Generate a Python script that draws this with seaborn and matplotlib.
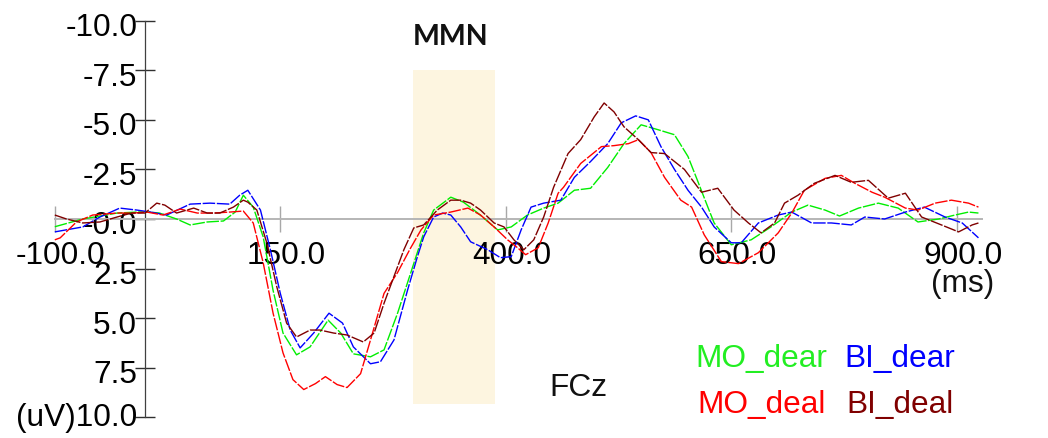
import numpy as np
import pandas as pd
import matplotlib
matplotlib.use("Agg")
import matplotlib.pyplot as plt
import seaborn as sns
from matplotlib.patches import Rectangle
from matplotlib.transforms import ScaledTranslation

# ---------------- data (ms, uV) ----------------
mo_dear_t = [-100, -69, -31, 0, 16, 35, 50, 69, 87, 100, 109, 120, 131, 142, 153, 168, 183, 203, 217, 231,
             250, 265, 280, 294, 309, 320, 339, 353, 369, 391, 406, 424, 442, 458, 476, 494, 513, 531, 550,
             569, 587, 602, 612, 624, 631, 650, 672, 694, 717, 735, 754, 770, 791, 813, 835, 857, 880, 898,
             913, 924]
mo_dear_v = [0.39, 0.0, -0.3, -0.37, -0.3, 0.0, 0.3, 0.15, 0.1, -0.35, -1.2, -0.6, 0.9, 3.6, 5.75, 6.85, 6.45,
             5.1, 5.75, 6.8, 6.95, 6.6, 4.75, 2.8, 0.7, -0.45, -1.1, -0.85, -0.3, 0.55, 0.4, -0.2, -0.55,
             -0.8, -1.45, -1.55, -2.6, -3.8, -4.75, -4.5, -4.25, -3.15, -2.0, -0.6, 0.2, 1.3, 1.05, 0.4,
             -0.35, -0.7, -0.45, -0.15, -0.55, -0.8, -0.55, 0.15, 0.0, -0.2, -0.35, -0.3]

bi_dear_t = [-100, -69, -50, -28, -9, 6, 24, 50, 72, 94, 105, 114, 128, 139, 150, 161, 172, 187, 204, 219,
             231, 250, 261, 276, 291, 302, 309, 320, 330, 339, 350, 361, 380, 394, 406, 417, 428, 442, 461,
             476, 494, 513, 528, 544, 558, 572, 587, 602, 617, 631, 650, 661, 680, 702, 717, 739, 761, 783,
             798, 820, 843, 864, 887, 906, 924]
bi_dear_v = [0.65, 0.4, -0.1, -0.55, -0.45, -0.35, -0.2, -0.75, -0.8, -0.75, -1.2, -1.45, -0.45, 1.55, 3.75,
             5.6, 6.5, 5.75, 4.75, 5.25, 6.45, 7.3, 7.2, 6.1, 3.6, 1.9, 0.9, -0.1, -0.3, -0.2, 0.4, 1.15,
             1.55, 1.95, 1.9, 0.55, -0.6, -0.8, -0.95, -2.1, -2.9, -3.8, -4.85, -5.2, -5.0, -3.65, -2.5,
             -1.45, -0.6, 0.4, 1.2, 1.2, 0.2, -0.2, -0.35, 0.2, 0.2, 0.3, -0.1, 0.0, -0.35, -0.6, -0.1,
             0.2, 0.95]

mo_deal_t = [-100, -94, -76, -58, -31, -13, 2, 20, 39, 58, 76, 94, 109, 120, 131, 142, 153, 164, 176, 189,
             200, 213, 224, 239, 250, 265, 280, 294, 306, 320, 339, 358, 372, 387, 402, 413, 422, 436, 447,
             458, 464, 483, 506, 520, 536, 547, 561, 576, 594, 606, 620, 639, 658, 680, 702, 717, 731, 754,
             772, 787, 806, 820, 843, 857, 876, 894, 913, 924]
mo_deal_v = [1.05, 0.95, 0.15, -0.2, -0.3, -0.3, -0.35, -0.2, -0.5, -0.3, -0.3, -0.35, -0.4, 0.2, 2.2, 4.75,
             6.75, 8.1, 8.6, 8.3, 7.95, 8.35, 8.5, 7.8, 6.1, 3.75, 2.7, 1.5, 0.55, -0.2, -0.35, -0.55, -0.2,
             0.4, 1.05, 1.45, 1.8, 1.45, 0.2, -1.3, -1.6, -2.8, -3.65, -3.7, -3.8, -4.0, -3.35, -2.1, -0.95,
             -0.6, 0.8, 2.15, 2.25, 1.7, 0.7, -0.3, -1.45, -2.05, -2.2, -1.8, -1.35, -1.1, -0.55, -0.45,
             -0.8, -0.95, -0.8, -0.6]

bi_deal_t = [-100, -87, -69, -50, -31, -15, 0, 13, 22, 35, 54, 69, 83, 98, 109, 114, 124, 135, 146, 157, 168,
             183, 194, 209, 224, 242, 254, 265, 276, 287, 298, 309, 324, 339, 350, 361, 372, 387, 398, 409,
             420, 431, 442, 453, 469, 483, 498, 509, 520, 531, 547, 561, 576, 598, 617, 635, 653, 669, 683,
             698, 709, 724, 742, 765, 783, 802, 824, 843, 861, 883, 902, 917, 924]
bi_deal_v = [-0.2, 0.0, 0.2, 0.15, -0.1, -0.3, -0.3, -0.8, -0.7, -0.3, -0.55, -0.3, -0.3, -0.6, -0.95, -0.85,
             -0.45, 1.2, 3.4, 5.25, 5.95, 5.6, 5.6, 5.75, 5.85, 6.2, 5.75, 4.25, 2.9, 1.55, 0.45, 0.3, -0.45,
             -0.95, -0.95, -0.8, -0.45, 0.2, 0.4, 1.05, 1.55, 1.05, -0.1, -1.6, -3.3, -4.0, -5.15, -5.85,
             -5.4, -4.65, -4.0, -3.35, -3.3, -2.5, -1.35, -1.55, -0.45, 0.2, 0.7, 0.2, -0.8, -1.2, -1.8,
             -2.2, -1.85, -1.95, -1.05, -1.3, -0.1, 0.3, 0.65, 0.3, 0.2]

conditions = ["MO_dear", "BI_dear", "MO_deal", "BI_deal"]
colors = {"MO_dear": "#00EE00", "BI_dear": "#0000FF", "MO_deal": "#FF0000", "BI_deal": "#800000"}

x_ticks = [-100, 150, 400, 650, 900]
x_tick_labels = ["-100.0", "150.0", "400.0", "650.0", "900.0"]
y_ticks = [-10, -7.5, -5, -2.5, 0, 2.5, 5, 7.5, 10]
y_tick_labels = ["-10.0", "-7.5", "-5.0", "-2.5", "-0.0", "2.5", "5.0", "7.5", "(uV)10.0"]
mmn_window = (297, 388)
mmn_span = (-7.5, 9.35)

# ---------------- build frame ----------------
series = {"MO_dear": (mo_dear_t, mo_dear_v), "BI_dear": (bi_dear_t, bi_dear_v),
          "MO_deal": (mo_deal_t, mo_deal_v), "BI_deal": (bi_deal_t, bi_deal_v)}
rows = []
for c in conditions:
    t, v = series[c]
    for a, b in zip(t, v):
        rows.append((c, a, b))
df = pd.DataFrame(rows, columns=["cond", "t", "v"])

sns.set_style("white")
plt.rcParams["font.family"] = ["Liberation Sans", "DejaVu Sans"]

W, H = 1048, 438
fig = plt.figure(figsize=(W / 100, H / 100), dpi=100)
ax = fig.add_axes([0, 0, 1, 1])
ax.set_facecolor("white")

# pixel mapping: px = 145 + 0.902*ms ; py = 219 + 19.83*v
sx, x0 = 0.902, 145.0
sy, y0 = 19.83, 219.0
ax.set_xlim((0 - x0) / sx, (W - x0) / sx)
ax.set_ylim((H - y0) / sy, (0 - y0) / sy)

ax.add_patch(Rectangle((mmn_window[0], mmn_span[0]), mmn_window[1] - mmn_window[0],
                       mmn_span[1] - mmn_span[0], facecolor="#FDF5E0", edgecolor="none", zorder=0))

sns.lineplot(data=df, x="t", y="v", hue="cond", hue_order=conditions, palette=colors,
             estimator=None, sort=False, legend=False, linewidth=1.0, ax=ax, zorder=3)
for ln in ax.lines:
    ln.set_dashes([9, 1.2])

# spines
for s in ["top", "right"]:
    ax.spines[s].set_visible(False)
ax.spines["left"].set_position(("data", 0))
ax.spines["left"].set_bounds(-10, 10)
ax.spines["left"].set_color("#404040")
ax.spines["left"].set_linewidth(0.9)
ax.spines["bottom"].set_position(("data", 0))
ax.spines["bottom"].set_bounds(-100, 928)
ax.spines["bottom"].set_color("#B5B5B5")
ax.spines["bottom"].set_linewidth(1.4)

ax.set_xticks(x_ticks)
ax.set_xticklabels(x_tick_labels)
ax.set_yticks(y_ticks)
ax.set_yticklabels(y_tick_labels)
ax.set_xlabel("")
ax.set_ylabel("")
ax.tick_params(axis="x", bottom=True, direction="inout", length=18.7, width=1.0, color="#A8A8A8",
               labelsize=22.8, pad=6.5, labelcolor="black")
ax.tick_params(axis="y", left=True, direction="inout", length=14.4, width=1.0, color="#303030",
               labelsize=22.8, pad=-1.6, labelcolor="black")

for i, tk in enumerate(ax.xaxis.get_major_ticks()):
    if x_ticks[i] == 400:
        tk.tick1line.set_color("black")
gray_y = [-7.5, 5, 7.5, 0]
for i, tk in enumerate(ax.yaxis.get_major_ticks()):
    if y_ticks[i] in gray_y:
        tk.tick1line.set_color("#B0B0B0")

for lab in ax.get_xticklabels():
    lab.set_transform(lab.get_transform() + ScaledTranslation(0.06, 0, fig.dpi_scale_trans))
for i, lab in enumerate(ax.get_yticklabels()):
    dy = -0.04 if y_ticks[i] != 10 else 0.03
    lab.set_transform(lab.get_transform() + ScaledTranslation(0, dy, fig.dpi_scale_trans))

def fx(px):
    return px / W

def fy(py):
    return 1 - py / H

fig.text(fx(451), fy(37), "MMN", fontsize=20.5, fontweight="bold", family=["Lato", "DejaVu Sans"],
         ha="center", va="center", color="#111111")
fig.text(fx(549), fy(396), "FCz", fontsize=22.8, ha="left", va="baseline", color="#111111")
fig.text(fx(963), fy(284), "(ms)", fontsize=22.8, ha="center", va="center", color="#111111")

fig.text(fx(695), fy(367), "MO_dear", fontsize=22.8, ha="left", va="baseline", color="#22EE22")
fig.text(fx(844), fy(367), "BI_dear", fontsize=22.8, ha="left", va="baseline", color="#0000FF")
fig.text(fx(697), fy(413), "MO_deal", fontsize=22.8, ha="left", va="baseline", color="#FF0000")
fig.text(fx(846), fy(413), "BI_deal", fontsize=22.8, ha="left", va="baseline", color="#800000")

fig.savefig("out.png", dpi=100)
